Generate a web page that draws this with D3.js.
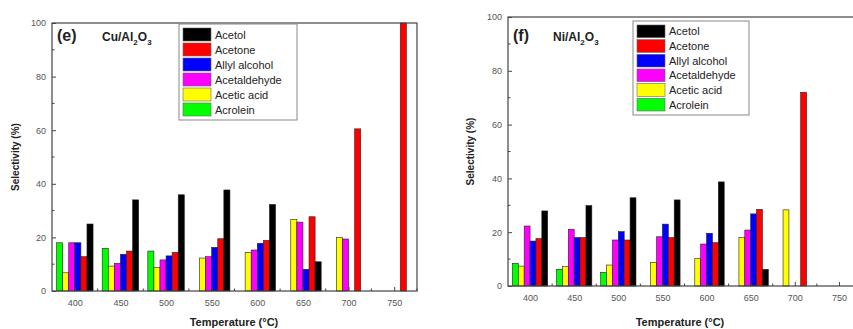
<!DOCTYPE html>
<html><head><meta charset="utf-8">
<script src="https://cdn.jsdelivr.net/npm/d3@7"></script>
<style>body{margin:0;background:#fff}svg{display:block;font-family:"Liberation Sans",Arial,sans-serif}</style>
</head><body><svg id="c" width="853" height="329"></svg>
<script>
const temps = [400, 450, 500, 550, 600, 650, 700, 750];
const series = ["Acrolein", "Acetic acid", "Acetaldehyde", "Allyl alcohol", "Acetone", "Acetol"];
const legendOrder = ["Acetol", "Acetone", "Allyl alcohol", "Acetaldehyde", "Acetic acid", "Acrolein"];
const colors = {"Acetol":"#000000","Acetone":"#ff0000","Allyl alcohol":"#0000ff","Acetaldehyde":"#ff00ff","Acetic acid":"#ffff00","Acrolein":"#00ff00"};
const yTicks = [0, 20, 40, 60, 80, 100];

// Cu/Al2O3 values per series, indexed by temps
const cuAcrolein     = [18, 15.9, 14.9, 0, 0, 0, 0, 0];
const cuAceticAcid   = [6.8, 9.3, 8.8, 12.3, 14.4, 26.7, 19.9, 0];
const cuAcetaldehyde = [18, 10.3, 11.6, 12.8, 15.3, 25.7, 19.4, 0];
const cuAllylAlcohol = [18, 13.7, 13.1, 16.3, 17.8, 8.1, 0, 0];
const cuAcetone      = [12.8, 14.9, 14.4, 19.5, 18.9, 27.7, 60.5, 100];
const cuAcetol       = [25, 34, 35.9, 37.7, 32.3, 10.9, 0, 0];

// Ni/Al2O3 values
const niAcrolein     = [8.4, 6.2, 5.1, 0, 0, 0, 0, 0];
const niAceticAcid   = [7.4, 7.2, 7.8, 8.8, 10.3, 18, 28.3, 0];
const niAcetaldehyde = [22.3, 21.1, 17.1, 18.3, 15.6, 20.8, 0, 0];
const niAllylAlcohol = [16.7, 18, 20.2, 23, 19.6, 26.8, 0, 0];
const niAcetone      = [17.6, 18, 17.1, 18, 16.1, 28.5, 72, 0];
const niAcetol       = [27.9, 29.9, 32.8, 32, 38.7, 6.2, 0, 0];

const panels = [
  {label:"(e)", metal:"Cu", data:{"Acrolein":cuAcrolein,"Acetic acid":cuAceticAcid,"Acetaldehyde":cuAcetaldehyde,"Allyl alcohol":cuAllylAlcohol,"Acetone":cuAcetone,"Acetol":cuAcetol},
   x0:52, x1:417, y0:291, y1:23, legX:179, legY:24, legW:118, legH:96, ytitleX:19, tickOff:15},
  {label:"(f)", metal:"Ni", data:{"Acrolein":niAcrolein,"Acetic acid":niAceticAcid,"Acetaldehyde":niAcetaldehyde,"Allyl alcohol":niAllylAlcohol,"Acetone":niAcetone,"Acetol":niAcetol},
   x0:508, x1:861, y0:286, y1:17, legX:633, legY:21, legW:116, legH:94, ytitleX:474, tickOff:15}
];

const svg = d3.select("#c");
const inner = d3.scaleBand().domain(series).range([-20, 20]);

panels.forEach(p => {
  const g = svg.append("g");
  const x = d3.scaleLinear().domain([375, 775]).range([p.x0, p.x1]);
  const y = d3.scaleLinear().domain([0, 100]).range([p.y0, p.y1]);

  // bars
  series.forEach(s => {
    g.selectAll(null).data(temps.map((t, i) => ({t, v: p.data[s][i]})).filter(d => d.v > 0))
      .enter().append("rect")
      .attr("x", d => x(d.t + inner(s)))
      .attr("width", d => x(d.t + inner(s) + inner.bandwidth()) - x(d.t + inner(s)))
      .attr("y", d => y(d.v))
      .attr("height", d => y(0) - y(d.v))
      .attr("fill", colors[s])
      .attr("stroke", "#222").attr("stroke-width", 0.6);
  });

  // frame
  g.append("rect").attr("x", p.x0).attr("y", p.y1).attr("width", p.x1 - p.x0).attr("height", p.y0 - p.y1)
    .attr("fill", "none").attr("stroke", "#444").attr("stroke-width", 1.2);

  // y axis
  const ya = d3.axisLeft(y).tickValues(yTicks).tickSize(-4).tickPadding(6);
  const yg = g.append("g").attr("transform", `translate(${p.x0},0)`).call(ya);
  yg.select(".domain").remove();
  yg.selectAll("line").attr("stroke", "#444");
  yg.selectAll("text").attr("font-size", 9).attr("fill", "#555");
  const yMinor = d3.range(10, 100, 20);
  g.selectAll(null).data(yMinor).enter().append("line")
    .attr("x1", p.x0).attr("x2", p.x0 + 2.5).attr("y1", d => y(d)).attr("y2", d => y(d)).attr("stroke", "#444");

  // x axis
  const xa = d3.axisBottom(x).tickValues(temps).tickSize(-4).tickPadding(9).tickFormat(d3.format("d"));
  const xg = g.append("g").attr("transform", `translate(0,${p.y0})`).call(xa);
  xg.select(".domain").remove();
  xg.selectAll("line").attr("stroke", "#444");
  xg.selectAll("text").attr("font-size", 9).attr("fill", "#555");
  const xMinor = d3.range(425, 776, 50);
  g.selectAll(null).data(xMinor).enter().append("line")
    .attr("x1", d => x(d)).attr("x2", d => x(d)).attr("y1", p.y0).attr("y2", p.y0 - 2.5).attr("stroke", "#444");

  // titles
  g.append("text").attr("x", (p.metal === "Cu" ? 234 : 680)).attr("y", 326).attr("text-anchor", "middle")
    .attr("font-size", 11).attr("font-weight", "bold").attr("fill", "#222").text("Temperature (°C)");
  g.append("text").attr("transform", `translate(${p.ytitleX},${(p.y0 + p.y1) / 2}) rotate(-90)`)
    .attr("text-anchor", "middle").attr("font-size", 10).attr("font-weight", "bold").attr("fill", "#222")
    .text("Selectivity (%)");

  // panel label
  g.append("text").attr("x", p.x0 + 5).attr("y", 41).attr("font-size", 16).attr("font-weight", "bold").attr("fill", "#222").text(p.label);
  const t = g.append("text").attr("x", p.x0 + (p.metal === "Cu" ? 50 : 45)).attr("y", 41).attr("font-size", 12).attr("font-weight", "bold").attr("fill", "#222");
  t.append("tspan").text(p.metal + "/Al");
  t.append("tspan").attr("font-size", 8).attr("dy", 4).text("2");
  t.append("tspan").attr("dy", -4).text("O");
  t.append("tspan").attr("font-size", 8).attr("dy", 4).text("3");

  // legend
  const lg = g.append("g").attr("transform", `translate(${p.legX},${p.legY})`);
  lg.append("rect").attr("width", p.legW).attr("height", p.legH).attr("fill", "#fff").attr("stroke", "#888");
  const rowH = (p.legH - 6) / 6;
  legendOrder.forEach((s, i) => {
    lg.append("rect").attr("x", 4).attr("y", 3 + i * rowH + 1).attr("width", 28).attr("height", rowH - 2)
      .attr("fill", colors[s]).attr("stroke", "#666").attr("stroke-width", 0.6);
    lg.append("text").attr("x", 36).attr("y", 3 + i * rowH + rowH / 2 + 4).attr("font-size", 11).attr("fill", "#222").text(s);
  });
});
</script></body></html>
